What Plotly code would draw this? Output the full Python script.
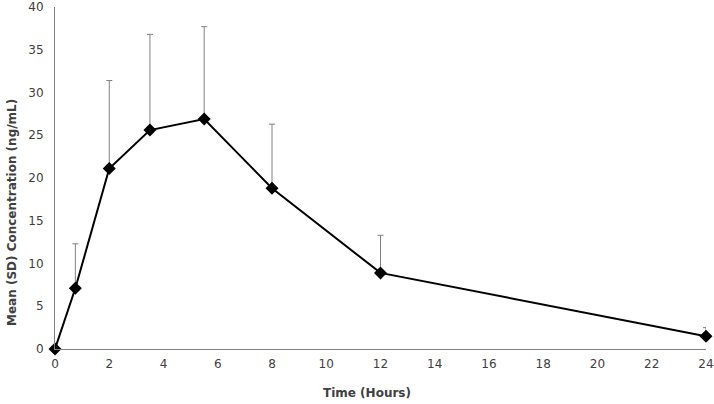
import plotly.graph_objects as go

time_h = [0, 0.75, 2, 3.5, 5.5, 8, 12, 24]
mean_conc = [0, 7.1, 21.1, 25.6, 26.9, 18.8, 8.9, 1.5]
sd_conc = [0, 5.2, 10.3, 11.2, 10.8, 7.5, 4.4, 1.0]

x_ticks = list(range(0, 25, 2))
y_ticks = list(range(0, 41, 5))

fig = go.Figure()
fig.add_trace(go.Scatter(
    x=time_h, y=mean_conc, mode="lines+markers",
    line=dict(color="black", width=2),
    marker=dict(symbol="diamond", size=10, color="black"),
    error_y=dict(type="data", array=sd_conc, arrayminus=[0]*len(sd_conc),
                 symmetric=False, color="#808080", thickness=1, width=3),
    showlegend=False,
    cliponaxis=False,
))

PH = 404 - 7 - 55
font_family = "DejaVu Sans, Verdana, sans-serif"
fig.update_layout(
    width=714, height=404,
    margin=dict(l=55, r=8, t=7, b=55),
    paper_bgcolor="white", plot_bgcolor="white",
    font=dict(family=font_family, size=12, color="#404040"),
    xaxis=dict(range=[0, 24], tickvals=x_ticks, showgrid=False, zeroline=False,
               showline=True, linecolor="#808080", linewidth=1, ticks="",
               automargin=False, ticklabelstandoff=4, ticklabeloverflow="allow"),
    yaxis=dict(range=[0, 40], tickvals=y_ticks, showgrid=False, zeroline=False,
               showline=True, linecolor="#808080", linewidth=1, ticks="",
               automargin=False, ticklabelstandoff=8, ticklabeloverflow="allow"),
    annotations=[
        dict(text="<b>Time (Hours)</b>", xref="paper", yref="paper",
             x=(366.5 - 55) / 651, y=-(393 - 349) / PH, xanchor="center", yanchor="middle",
             showarrow=False, font=dict(size=12, color="#404040")),
        dict(text="<b>Mean (SD) Concentration (ng/mL)</b>", xref="paper", yref="paper",
             x=-(55 - 12) / 651, y=(349 - 213) / PH, xanchor="center", yanchor="middle",
             textangle=-90, showarrow=False, font=dict(size=12, color="#404040")),
    ],
)
fig.write_html("out.html", config={"displayModeBar": False},
               post_script="document.body.style.margin='0';document.body.style.padding='0';")
